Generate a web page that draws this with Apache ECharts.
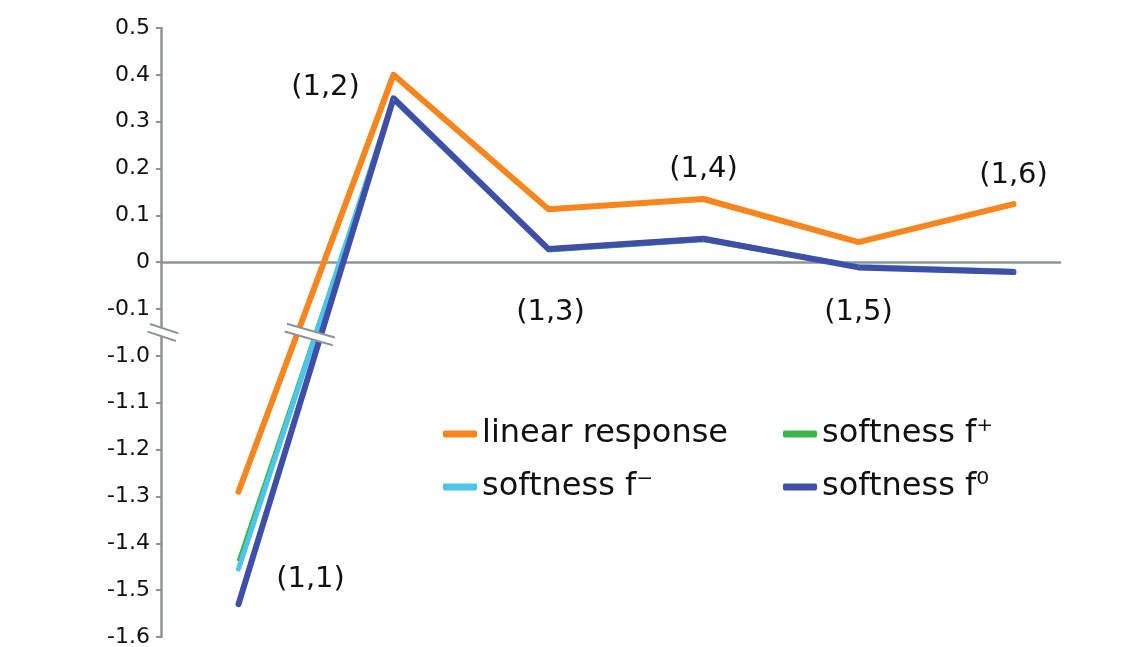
<!DOCTYPE html>
<html>
<head>
<meta charset="utf-8">
<script src="https://cdn.jsdelivr.net/npm/echarts@6/dist/echarts.min.js"></script>
<style>
html, body { margin: 0; padding: 0; background: #fff; }
#chart { width: 1138px; height: 647px; }
</style>
</head>
<body>
<div id="chart"></div>
<script>
// sites along the chain
var sites = ['(1,1)', '(1,2)', '(1,3)', '(1,4)', '(1,5)', '(1,6)']

var linearResponse = [-1.29, 0.40, 0.113, 0.135, 0.043, 0.124]
var softnessPlus   = [-1.435, 0.345, 0.024, 0.046, -0.012, -0.021]
var softnessMinus  = [-1.455, 0.348, 0.028, 0.050, -0.009, -0.019]
var softnessZero   = [-1.53, 0.350, 0.028, 0.050, -0.011, -0.021]

// y axis is broken between -0.1 and -1.0
var yTickLabels = ['-1.6', '-1.5', '-1.4', '-1.3', '-1.2', '-1.1', '-1.0',
                   '-0.1', '0', '0.1', '0.2', '0.3', '0.4', '0.5']

var BREAK_AT = -0.5
var SHIFT = 0.8
function squash(v) { return v < BREAK_AT ? v + SHIFT : v }

var FONT = 'DejaVu Sans'
var AXIS_GRAY = '#8e9494'

// which series carries each site label, and how far it sits from the point
var labelSpots = {
    '(1,1)': { series: 'softness f⁰', offset: [72, -25] },
    '(1,2)': { series: 'linear response', offset: [-68, 13] },
    '(1,3)': { series: 'softness f⁰', offset: [2, 63] },
    '(1,4)': { series: 'linear response', offset: [0, -30] },
    '(1,5)': { series: 'softness f⁰', offset: [0, 45] },
    '(1,6)': { series: 'linear response', offset: [0, -29] }
}

function makeSeries(name, values, color, width) {
    return {
        name: name,
        type: 'line',
        color: color,
        symbol: 'circle',
        symbolSize: 1,
        showSymbol: true,
        lineStyle: { width: width, color: color, cap: 'round', join: 'round' },
        emphasis: { disabled: true },
        data: values.map(function (v, i) {
            var d = { value: [i + 1, squash(v)] }
            var spot = labelSpots[sites[i]]
            if (spot && spot.series === name) {
                d.label = {
                    show: true,
                    position: 'inside',
                    offset: spot.offset,
                    formatter: sites[i],
                    color: '#111',
                    fontSize: 29,
                    fontFamily: FONT
                }
            }
            return d
        })
    }
}

var legendText = { fontSize: 32, fontFamily: FONT, color: '#111' }

var chart = echarts.init(document.getElementById('chart'))
chart.setOption({
    animation: false,
    backgroundColor: '#fff',
    grid: { left: 161, right: 78, top: 28, bottom: 10, containLabel: false, outerBoundsMode: 'none' },
    legend: [{
        data: ['linear response', 'softness f⁻'],
        orient: 'vertical',
        left: 438, top: 413,
        itemGap: 21, itemWidth: 34, itemHeight: 7,
        icon: 'roundRect',
        selectedMode: false,
        textStyle: legendText
    }, {
        data: ['softness f⁺', 'softness f⁰'],
        orient: 'vertical',
        left: 778, top: 413,
        itemGap: 21, itemWidth: 34, itemHeight: 7,
        icon: 'roundRect',
        selectedMode: false,
        textStyle: legendText
    }],
    xAxis: {
        type: 'value',
        min: 0.5, max: 6.3,
        axisLine: { show: true, onZero: true, lineStyle: { color: AXIS_GRAY, width: 2.5 } },
        axisTick: { show: false },
        axisLabel: { show: false },
        splitLine: { show: false }
    },
    yAxis: {
        type: 'value',
        min: squash(-1.6), max: 0.5, interval: 0.1,
        axisLine: { show: true, onZero: false, lineStyle: { color: AXIS_GRAY, width: 2.5 } },
        axisTick: { show: true, inside: false, length: 5, lineStyle: { color: AXIS_GRAY, width: 2 } },
        axisLabel: {
            margin: 11,
            color: '#111',
            fontSize: 22,
            fontFamily: FONT,
            formatter: function (v) { return yTickLabels[Math.round((v - squash(-1.6)) / 0.1)] }
        },
        splitLine: { show: false }
    },
    series: [
        makeSeries('linear response', linearResponse, '#f7861f', 6),
        makeSeries('softness f⁺', softnessPlus, '#3bb54a', 3),
        makeSeries('softness f⁻', softnessMinus, '#4cc5ec', 5),
        makeSeries('softness f⁰', softnessZero, '#3f4fa8', 6)
    ]
})

// the "//" marks showing the break, on the axis and across the lines
function breakMark(p, w, gap, angle) {
    var z = 100
    return {
        type: 'group', x: p[0], y: p[1], rotation: angle,
        children: [
            { type: 'rect', z: z, shape: { x: -w / 2, y: -gap / 2, width: w, height: gap }, style: { fill: '#fff' } },
            { type: 'line', z: z, shape: { x1: -w / 2, y1: -gap / 2, x2: w / 2, y2: -gap / 2 }, style: { stroke: AXIS_GRAY, lineWidth: 2 } },
            { type: 'line', z: z, shape: { x1: -w / 2, y1: gap / 2, x2: w / 2, y2: gap / 2 }, style: { stroke: AXIS_GRAY, lineWidth: 2 } }
        ]
    }
}

var gapY = (squash(-1.0) + -0.1) / 2
var axisBreak = chart.convertToPixel({ gridIndex: 0 }, [0.5, gapY])
var lineBreak = chart.convertToPixel({ gridIndex: 0 }, [1.46, gapY])
chart.setOption({
    graphic: [
        breakMark([axisBreak[0] + 2, axisBreak[1]], 30, 8, -0.32),
        breakMark([lineBreak[0], lineBreak[1] + 2], 50, 8, -0.28)
    ]
})
</script>
</body>
</html>
